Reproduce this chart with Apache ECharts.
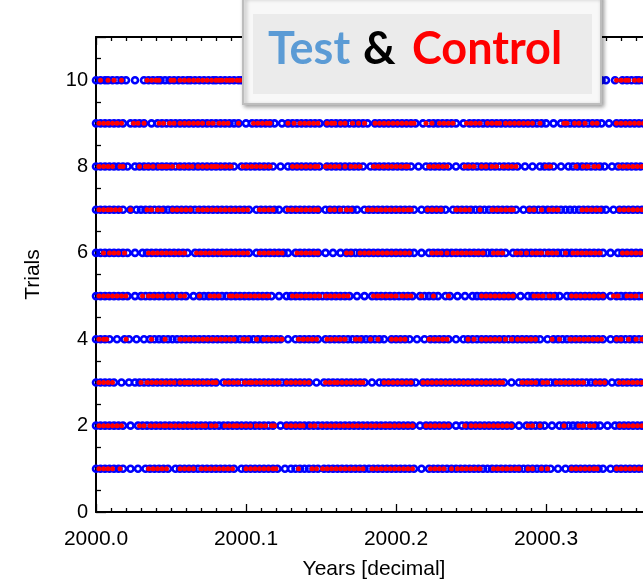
<!DOCTYPE html>
<html>
<head>
<meta charset="utf-8">
<script src="https://cdn.jsdelivr.net/npm/echarts@6/dist/echarts.min.js"></script>
<style>
  html, body { margin: 0; padding: 0; background: #fff; overflow: hidden; }
  #chart { width: 740px; height: 581px; }
</style>
</head>
<body>
<div id="chart"></div>
<script>
// Event times per trial, stored as offsets in thousandths of a year after START_YEAR.
const START_YEAR = 2000;
const trialNumbers = [1, 2, 3, 4, 5, 6, 7, 8, 9, 10];
const xTickLabels = ['2000.0', '2000.1', '2000.2', '2000.3'];
const yTickLabels = ['0', '2', '4', '6', '8', '10'];

// Test events (blue open circles)
const test01 = [0,3,6,9,12,15,18,23,28,33,36,39,42,45,48,53,56,59,62,65,68,71,74,77,80,83,86,89,92,97,100,103,106,109,112,115,118,121,126,130,133,136,139,142,145,148,152,155,158,161,164,167,170,173,176,179,182,185,188,191,194,197,200,203,206,209,212,217,222,225,228,231,234,237,240,243,246,249,252,255,258,261,264,267,270,273,276,279,282,285,288,291,294,297,300,303,308,313,317,320,323,326,329,332,335,338,343,347,350,353,356,359,362,365];
const test02 = [0,3,6,9,12,15,18,23,28,31,34,37,40,43,46,49,52,55,58,61,64,67,70,73,76,79,82,85,88,91,94,97,100,103,106,109,112,115,118,123,127,130,133,136,139,142,145,148,151,154,157,160,163,166,169,172,175,178,181,184,187,190,193,196,199,202,205,208,211,216,220,223,226,229,232,235,240,244,247,250,253,256,259,262,265,268,271,274,277,282,287,290,293,296,299,304,309,312,315,318,321,324,327,330,333,336,341,346,349,352,355,358,361,364];
const test03 = [0,3,6,9,12,17,22,26,29,32,35,38,41,44,47,50,53,56,59,62,65,68,71,74,77,80,85,88,91,94,97,100,103,106,109,112,115,118,121,124,127,130,133,136,139,142,147,152,155,158,161,164,167,170,173,176,179,184,189,192,195,198,201,204,207,210,213,218,221,224,227,230,233,236,239,242,245,248,251,254,257,260,263,266,269,272,277,282,285,288,291,294,297,300,303,306,309,312,315,318,321,324,327,330,333,336,339,344,348,351,354,357,360,363,366];
const test04 = [0,3,6,9,14,19,22,27,32,36,39,42,45,48,51,54,57,60,63,66,69,72,75,78,81,84,87,90,93,96,99,102,105,108,111,114,117,120,123,128,133,136,139,142,145,148,153,156,159,162,165,168,171,174,177,180,183,186,189,192,197,200,203,206,209,214,219,223,226,229,232,235,240,245,248,251,254,257,260,263,266,269,272,275,278,281,284,287,290,293,296,301,305,308,311,314,317,320,323,326,329,332,335,338,343,347,350,353,356,359,362,365];
const test05 = [0,3,6,9,12,15,18,21,26,30,33,36,39,42,45,48,51,54,57,60,65,69,72,75,78,81,84,87,90,93,96,99,102,105,108,111,114,117,122,127,130,133,136,139,142,145,148,151,154,157,160,163,166,169,174,179,184,187,190,193,196,199,202,205,208,211,216,219,222,225,228,233,236,241,246,251,254,257,260,263,266,269,272,275,278,283,288,291,294,297,300,303,306,309,314,317,320,323,326,329,332,335,338,343,347,350,353,356,359,362,365];
const test06 = [0,3,6,9,12,15,18,21,26,31,34,37,40,43,46,49,52,55,58,61,66,69,72,75,78,81,84,87,90,93,96,99,102,107,110,113,116,119,122,125,128,133,136,139,142,145,148,153,158,163,167,170,173,176,179,182,185,188,191,194,197,200,203,206,209,212,217,222,225,228,231,234,237,240,243,246,249,252,255,258,261,264,267,270,273,278,281,284,287,290,293,296,299,302,305,308,311,314,317,320,323,326,329,332,335,338,343,348,351,354,357,360,363,366];
const test07 = [0,3,6,9,12,15,18,23,27,30,33,36,39,42,45,48,51,54,57,60,63,66,69,72,75,78,81,84,87,90,93,96,99,102,107,110,113,116,119,122,127,130,133,136,139,142,145,148,153,156,159,162,165,168,171,174,179,182,185,188,191,194,197,200,203,206,209,212,217,221,224,227,230,233,238,241,244,247,250,253,256,259,262,265,268,271,274,277,280,285,289,292,295,298,301,304,307,310,313,316,319,322,325,328,331,334,337,340,345,349,352,355,358,361,364];
const test08 = [0,3,6,9,12,15,18,21,26,29,32,35,38,41,44,47,50,53,56,59,62,65,68,71,74,77,80,83,86,89,92,97,100,103,106,109,112,115,118,123,128,131,134,137,140,143,146,149,154,157,160,163,166,169,172,175,178,183,186,189,192,195,198,201,204,207,210,215,220,223,226,229,232,235,240,245,248,251,254,257,260,263,266,269,272,275,278,281,286,291,296,299,302,305,310,315,318,321,324,327,330,333,336,339,344,348,351,354,357,360,363,366];
const test09 = [0,3,6,9,12,15,18,23,26,29,32,37,41,44,47,50,53,56,59,62,65,68,71,74,77,80,83,86,89,92,95,100,104,107,110,113,116,119,124,128,131,134,137,140,143,146,149,154,157,160,163,166,169,172,175,178,181,186,189,192,195,198,201,204,207,210,213,218,222,225,228,231,234,237,240,245,249,252,255,258,261,264,267,270,273,276,279,282,285,288,291,294,297,300,305,310,313,316,319,322,325,328,331,334,337,342,347,350,353,356,359,362,365];
const test10 = [0,3,6,8,11,14,17,20,26,32,35,38,41,43,46,49,52,55,58,61,63,66,69,72,75,78,80,83,86,89,92,95,97,100,337,340,346,351,354,357,360,362,365];

// Control events (red filled dots)
const control01 = [2,5,8,11,16,35,38,41,44,47,56,59,62,65,70,73,76,79,82,85,88,91,100,103,106,109,112,115,118,120,135,144,147,151,154,157,160,163,166,169,172,175,178,184,187,190,193,196,199,202,205,208,211,223,226,229,232,237,241,244,247,250,253,256,265,268,271,274,277,280,282,288,291,297,301,317,320,323,326,329,332,334,347,350,353,356,359,362,365];
const control02 = [2,5,8,11,14,17,29,32,36,39,42,45,47,50,53,56,59,62,65,68,71,73,77,80,86,89,92,94,97,100,103,107,110,113,117,119,127,130,133,136,138,143,146,150,153,156,159,162,165,168,171,174,177,180,183,186,189,192,194,196,199,202,205,208,211,220,223,226,229,232,235,246,250,253,256,259,262,265,268,271,274,277,288,291,296,312,322,325,329,332,349,352,355,358,361,364];
const control03 = [2,5,8,11,30,34,37,40,43,46,49,52,56,59,61,63,66,69,72,75,78,80,86,89,92,95,99,102,104,107,110,113,116,119,122,127,130,133,136,139,142,153,156,159,161,164,167,170,173,176,178,192,195,198,201,204,207,210,218,221,224,227,230,233,236,239,242,245,248,251,254,257,260,263,266,269,271,284,287,290,293,298,301,307,310,313,316,319,322,325,333,336,339,349,352,355,358,361,364];
const control04 = [2,5,7,20,37,46,56,59,62,65,68,71,74,77,80,83,86,89,92,98,101,107,112,115,118,121,124,135,138,141,144,147,154,157,160,163,166,173,176,183,188,197,200,203,206,222,225,228,231,234,248,252,257,260,263,266,269,273,277,281,284,287,290,293,304,309,316,319,322,325,328,331,334,337,347,350,355,360,364];
const control05 = [2,5,8,11,14,17,20,31,35,38,41,44,48,51,56,59,69,76,79,82,89,91,94,97,100,103,106,109,112,115,131,134,137,140,143,146,149,153,156,159,162,165,168,185,188,191,194,197,200,204,207,210,217,225,235,257,260,263,266,269,272,275,278,292,295,298,302,305,317,320,323,326,329,332,335,338,345,348,354,357,360,364];
const control06 = [5,9,12,15,19,35,38,41,44,47,50,53,56,59,67,70,73,76,79,82,85,87,89,92,95,98,101,109,112,115,118,121,124,134,137,140,143,146,148,167,170,176,179,182,185,188,191,194,197,200,203,206,209,224,227,230,234,238,241,244,247,250,253,255,258,265,268,271,280,283,287,291,294,297,301,304,307,313,318,321,324,327,330,333,336,351,354,357,360,363];
const control07 = [2,5,8,10,13,16,23,34,37,41,44,51,54,57,60,63,68,71,74,77,80,83,86,89,92,95,98,101,109,112,115,118,128,131,134,137,140,143,146,148,156,159,163,167,170,181,184,187,190,193,196,199,202,205,208,210,221,224,227,230,240,243,246,249,256,264,267,270,273,276,278,289,292,297,302,305,308,324,327,330,333,336,349,352,355,358,361,364];
const control08 = [2,5,8,11,16,18,29,33,35,38,42,44,46,48,51,55,58,61,64,68,71,74,77,79,81,84,87,90,98,101,104,107,110,113,116,131,134,137,140,143,146,148,153,156,159,162,166,170,173,176,185,188,191,194,197,200,203,206,208,222,225,228,231,234,246,249,252,257,260,264,267,271,274,277,280,300,303,320,325,328,332,335,349,352,355,358,361,364];
const control09 = [2,5,8,11,14,17,25,28,32,42,45,49,52,56,59,62,65,68,71,75,78,82,85,88,95,105,108,111,114,116,128,132,136,139,142,145,148,154,157,159,163,166,171,175,179,186,189,192,195,198,201,204,207,210,212,220,224,229,232,235,238,247,250,253,256,261,264,267,269,273,276,279,282,285,288,291,296,312,314,319,322,326,331,334,347,350,353,356,359,362,365];
const control10 = [3,8,12,17,34,37,40,42,50,52,56,59,62,65,68,71,74,77,80,82,84,87,89,91,94,96,347,350,353,355,359,362,365];

const testRows = [test01, test02, test03, test04, test05, test06, test07, test08, test09, test10];
const controlRows = [control01, control02, control03, control04, control05, control06, control07, control08, control09, control10];

function toPoints(rows) {
  const pts = [];
  rows.forEach((offsets, i) => {
    offsets.forEach(v => pts.push([START_YEAR + v / 1000, trialNumbers[i]]));
  });
  return pts;
}

const FONT = '"Liberation Sans", Arial, Helvetica, sans-serif';
const chart = echarts.init(document.getElementById('chart'), null, { renderer: 'canvas' });

const xCommon = {
  type: 'value',
  min: 2000.0,
  max: 2000.4,
  interval: 0.1,
  axisLine: { show: true, onZero: false, lineStyle: { color: '#000', width: 2 } },
  axisTick: { show: true, inside: true, length: 8, lineStyle: { color: '#000', width: 1.3 } },
  minorTick: { show: true, splitNumber: 10, length: 4, lineStyle: { color: '#000', width: 1.3 } },
  splitLine: { show: false },
  minorSplitLine: { show: false }
};

chart.setOption({
  animation: false,
  backgroundColor: '#fff',
  grid: { left: 96, top: 37, width: 600, height: 475, containLabel: false, outerBoundsMode: 'none' },
  xAxis: [
    Object.assign({}, xCommon, {
      position: 'bottom',
      name: 'Years [decimal]',
      nameLocation: 'middle',
      nameGap: 47,
      nameTextStyle: { fontFamily: FONT, fontSize: 21, color: '#000', padding: [0, 44, 0, 0] },
      axisLabel: {
        show: true, margin: 17, fontFamily: FONT, fontSize: 21, color: '#000',
        formatter: v => {
          const s = v.toFixed(1);
          return xTickLabels.indexOf(s) >= 0 ? s : '';
        }
      }
    }),
    Object.assign({}, xCommon, { position: 'top', axisLabel: { show: false } })
  ],
  yAxis: {
    type: 'value',
    min: 0,
    max: 11,
    interval: 1,
    name: 'Trials',
    nameLocation: 'middle',
    nameGap: 52,
    nameTextStyle: { fontFamily: FONT, fontSize: 21, color: '#000' },
    axisLine: { show: true, onZero: false, lineStyle: { color: '#000', width: 2 } },
    axisTick: { show: true, inside: true, length: 10, lineStyle: { color: '#000', width: 1.3 } },
    minorTick: { show: true, splitNumber: 2, length: 5, lineStyle: { color: '#000', width: 1.3 } },
    splitLine: { show: false },
    axisLabel: {
      margin: 8, fontFamily: FONT, fontSize: 20, color: '#000',
      formatter: v => (yTickLabels.indexOf(String(v)) >= 0 ? String(v) : '')
    }
  },
  series: [
    {
      name: 'Test',
      type: 'scatter',
      data: toPoints(testRows),
      symbol: 'circle',
      symbolSize: 6,
      itemStyle: { color: 'rgba(0,0,0,0)', borderColor: '#0000ff', borderWidth: 2.6, opacity: 1 },
      silent: true,
      z: 2
    },
    {
      name: 'Control',
      type: 'scatter',
      data: toPoints(controlRows),
      symbol: 'circle',
      symbolSize: 5,
      itemStyle: { color: '#ff0000', opacity: 1 },
      silent: true,
      z: 3
    }
  ],
  graphic: [
    {
      type: 'rect', z: 100,
      shape: { x: 243, y: -4, width: 358, height: 108 },
      style: { fill: '#f8f8f8', stroke: '#bdbdbd', lineWidth: 2,
               shadowBlur: 4, shadowOffsetX: 2, shadowOffsetY: 2, shadowColor: 'rgba(0,0,0,0.35)' }
    },
    {
      type: 'rect', z: 101,
      shape: { x: 253, y: 14, width: 339, height: 80 },
      style: { fill: '#ebebeb' }
    },
    {
      type: 'text', z: 102, x: 268, y: 49,
      style: { text: 'Test', font: 'bold 45px Lato, "Open Sans", sans-serif', fill: '#5b9bd5', textAlign: 'left', textVerticalAlign: 'middle' }
    },
    {
      type: 'text', z: 102, x: 363, y: 49,
      style: { text: '&', font: 'bold 45px Lato, "Open Sans", sans-serif', fill: '#000000', textAlign: 'left', textVerticalAlign: 'middle' }
    },
    {
      type: 'text', z: 102, x: 412, y: 49,
      style: { text: 'Control', font: 'bold 45px Lato, "Open Sans", sans-serif', fill: '#ff0000', textAlign: 'left', textVerticalAlign: 'middle' }
    }
  ]
});
</script>
</body>
</html>
